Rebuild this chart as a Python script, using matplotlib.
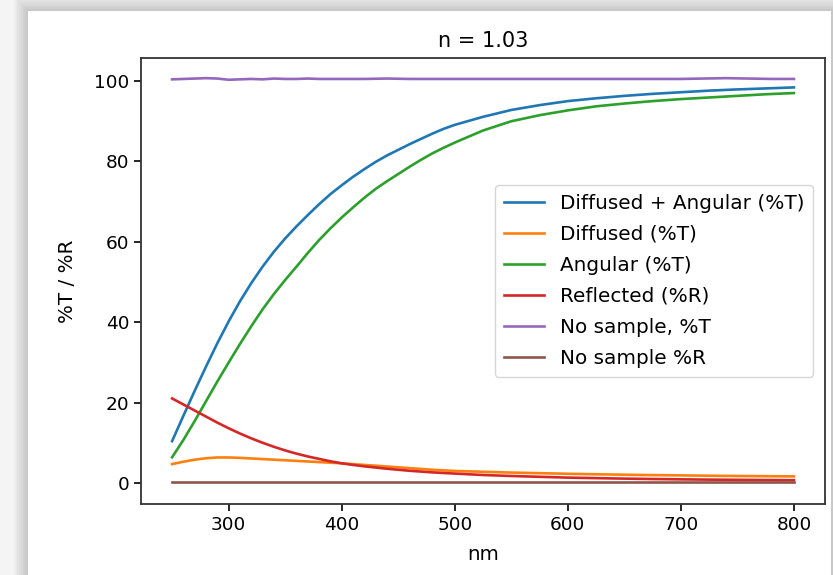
import matplotlib
matplotlib.use("Agg")
import matplotlib.pyplot as plt
from matplotlib.patches import Rectangle

# ---- data ----
wavelength = [250, 260, 270, 280, 290, 300, 310, 320, 330, 340, 350, 360, 370,
              380, 390, 400, 410, 420, 430, 440, 450, 460, 470, 480, 490, 500,
              525, 550, 575, 600, 625, 650, 675, 700, 725, 750, 775, 800]
diff_ang = [10.5, 16.8, 23.0, 29.0, 34.8, 40.2, 45.2, 49.7, 53.8, 57.5, 60.8,
            63.8, 66.6, 69.3, 71.8, 74.0, 76.1, 78.0, 79.8, 81.4, 82.8, 84.2,
            85.5, 86.8, 88.0, 89.0, 91.0, 92.7, 93.9, 94.9, 95.6, 96.2, 96.7,
            97.1, 97.5, 97.8, 98.05, 98.3]
diffused = [4.8, 5.4, 5.9, 6.25, 6.45, 6.45, 6.35, 6.2, 6.05, 5.9, 5.75, 5.6,
            5.45, 5.3, 5.15, 5.0, 4.8, 4.6, 4.4, 4.2, 4.0, 3.8, 3.6, 3.4, 3.25,
            3.1, 2.9, 2.7, 2.55, 2.4, 2.28, 2.17, 2.07, 2.0, 1.92, 1.85, 1.8,
            1.75]
angular = [6.5, 10.8, 15.5, 20.4, 25.3, 30.0, 34.6, 39.0, 43.2, 47.0, 50.5,
           53.8, 57.2, 60.4, 63.3, 66.0, 68.5, 70.9, 73.1, 75.0, 76.8, 78.6,
           80.3, 81.9, 83.3, 84.6, 87.6, 89.9, 91.4, 92.6, 93.6, 94.3, 94.9,
           95.4, 95.8, 96.2, 96.6, 96.9]
reflected = [21.1, 19.6, 18.1, 16.6, 15.1, 13.7, 12.4, 11.2, 10.1, 9.1, 8.2,
             7.4, 6.7, 6.1, 5.5, 5.0, 4.6, 4.25, 3.95, 3.65, 3.4, 3.15, 2.95,
             2.75, 2.6, 2.45, 2.1, 1.85, 1.65, 1.45, 1.32, 1.2, 1.1, 1.02, 0.95,
             0.9, 0.85, 0.8]

wl_ref = [250, 260, 270, 280, 290, 300, 310, 320, 330, 340, 350, 360, 370, 380,
          390, 400, 420, 440, 460, 480, 500, 550, 600, 650, 700, 720, 740, 760,
          780, 800]
nosample_T = [100.3, 100.4, 100.5, 100.6, 100.5, 100.2, 100.3, 100.4, 100.3,
              100.5, 100.4, 100.4, 100.5, 100.4, 100.4, 100.4, 100.4, 100.5,
              100.4, 100.4, 100.4, 100.4, 100.4, 100.4, 100.4, 100.5, 100.6,
              100.5, 100.4, 100.4]
nosample_R = [0.35] * len(wl_ref)

labels = ["Diffused + Angular (%T)", "Diffused (%T)", "Angular (%T)",
          "Reflected (%R)", "No sample, %T", "No sample %R"]

W, H = 833, 575
fig = plt.figure(figsize=(W / 100, H / 100), dpi=100)
fig.patch.set_facecolor("#f4f4f4")

# screenshot card shadow
card_x0, card_x1, card_y1 = 28, 831, 564  # pixels from bottom-left
for i, a in enumerate([0.05, 0.05, 0.05, 0.05, 0.05, 0.05, 0.06, 0.07]):
    pad = 14 - i * 1.7
    fig.patches.append(Rectangle(((card_x0 - pad) / W, 0),
                                 (card_x1 - card_x0 + 2 * pad) / W,
                                 (card_y1 + pad) / H,
                                 transform=fig.transFigure, facecolor="#808080",
                                 edgecolor="none", alpha=a, zorder=-10))
fig.patches.append(Rectangle((card_x0 / W, 0), (card_x1 - card_x0) / W,
                             card_y1 / H, transform=fig.transFigure,
                             facecolor="white", edgecolor="none", zorder=-9))

ax = fig.add_axes([141 / W, 1 - 504 / H, (825 - 141) / W, (504 - 58) / H])
ax.set_facecolor("none")

lw = 1.9
ax.plot(wavelength, diff_ang, color="#1f77b4", lw=lw, label=labels[0])
ax.plot(wavelength, diffused, color="#ff7f0e", lw=lw, label=labels[1])
ax.plot(wavelength, angular, color="#2ca02c", lw=lw, label=labels[2])
ax.plot(wavelength, reflected, color="#d62728", lw=lw, label=labels[3])
ax.plot(wl_ref, nosample_T, color="#9467bd", lw=lw, label=labels[4])
ax.plot(wl_ref, nosample_R, color="#8c564b", lw=lw, label=labels[5])

ax.set_xlim(222.5, 827.5)
ax.set_ylim(-5.1, 105.6)
ax.set_xticks([300, 400, 500, 600, 700, 800])
ax.set_yticks([0, 20, 40, 60, 80, 100])
ax.tick_params(labelsize=13.3, length=5, width=1.2)
for s in ax.spines.values():
    s.set_linewidth(1.3)
    s.set_color("#333333")

ax.set_title("n = 1.03", fontsize=15, pad=8)
ax.set_xlabel("nm", fontsize=14.3, labelpad=8)
ax.set_ylabel("%T / %R", fontsize=14.3, labelpad=12)
ax.legend(loc="center right", fontsize=14.4, frameon=True, handlelength=2.0,
          borderpad=0.45, labelspacing=0.6, handletextpad=0.8,
          borderaxespad=0.6)

fig.savefig("out.png", dpi=100, facecolor=fig.get_facecolor())
